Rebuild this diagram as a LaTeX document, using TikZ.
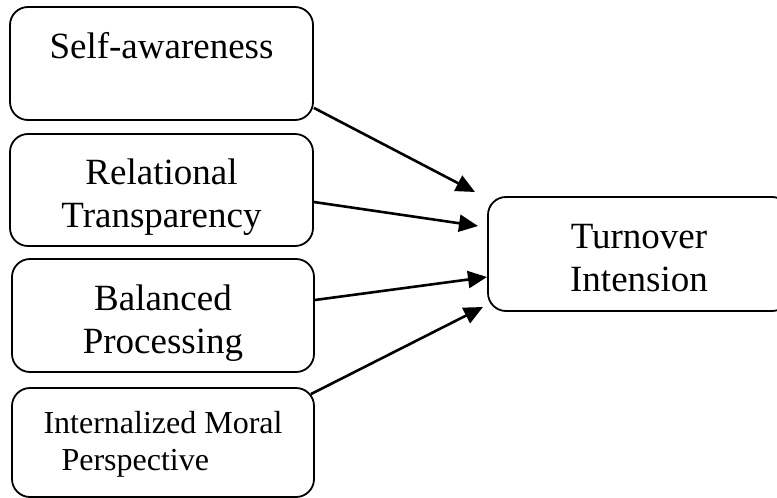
\documentclass[tikz,border=0pt]{standalone}
\usepackage{fontspec}
\setmainfont{Liberation Serif}
\usetikzlibrary{arrows.meta}

\tikzset{
  box/.style={draw, rectangle, rounded corners=18pt, line width=1.8pt, inner sep=0pt,
    align=center, font=\fontsize{37}{43}\selectfont, text height=75pt, text depth=0pt},
  arr/.style={line width=2.6pt, -{Triangle[length=19pt,width=17pt]}}
}

\begin{document}
\begin{tikzpicture}[x=1pt, y=-1pt]
    \useasboundingbox (0, 0) rectangle (777, 498);

    % the four dimensions
    \node[box, minimum width=303pt, minimum height=113pt] (sa) at (161.5, 63.5) {Self-awareness\\\mbox{}};
    \node[box, minimum width=303pt, minimum height=112pt] (rt) at (161.5, 190) {Relational\\Transparency};
    \node[box, minimum width=302pt, minimum height=113pt] (bp) at (163, 315.5) {Balanced\\Processing};
    \node[box, minimum width=302pt, minimum height=109pt, align=left,
      font=\fontsize{32}{37}\selectfont, text height=55pt, text depth=0pt] (imp) at (163, 442.5)
      {Internalized Moral\\\hspace*{18pt}Perspective};

    % outcome
    \node[box, minimum width=302pt, minimum height=114pt, text height=74pt] (ti) at (639, 254) {Turnover\\Intension};

    \coordinate (t1) at (475, 192);
    \coordinate (t2) at (478, 226);
    \coordinate (t3) at (487, 277);
    \coordinate (t4) at (483, 307);

    \draw[arr] ([yshift=13pt]sa.south east) -- (t1);
    \draw[arr] ([yshift=-12pt]rt.east) -- (t2);
    \draw[arr] ([yshift=15.5pt]bp.east) -- (t3);
    \draw[arr] ([xshift=-4pt, yshift=-7pt]imp.north east) -- (t4);
  \end{tikzpicture}
\end{document}
